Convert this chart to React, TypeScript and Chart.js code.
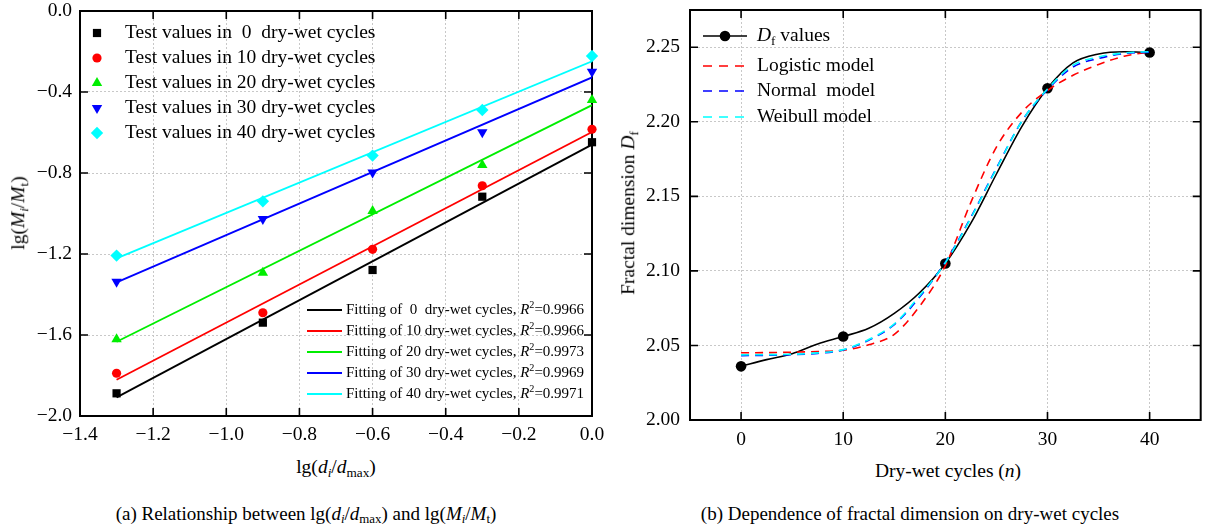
import React, { useEffect, useRef } from "react";
import { Chart, registerables } from "chart.js";
import { drawPoint } from "chart.js/helpers";

Chart.register(...registerables);

const FONT = "'Liberation Serif', 'Times New Roman', serif";

// ---------- Panel (a) data ----------
const sizeX = [-1.3, -0.9, -0.6, -0.3, 0.0];
const cycles = [0, 10, 20, 30, 40];
const test0 = [-1.888, -1.539, -1.279, -0.917, -0.648];
const test10 = [-1.789, -1.49, -1.177, -0.863, -0.584];
const test20 = [-1.621, -1.292, -0.988, -0.76, -0.44];
const test30 = [-1.337, -1.027, -0.797, -0.599, -0.3];
const test40 = [-1.208, -0.94, -0.714, -0.489, -0.222];
const fitX = [-1.3, 0.0];
const fit0 = [-1.908, -0.66];
const fit10 = [-1.821, -0.598];
const fit20 = [-1.633, -0.465];
const fit30 = [-1.34, -0.328];
const fit40 = [-1.222, -0.248];
const r2Values = ["0.9966", "0.9966", "0.9973", "0.9969", "0.9971"];
const aXTicks = [-1.4, -1.2, -1.0, -0.8, -0.6, -0.4, -0.2, 0.0];
const aYTicks = [-2.0, -1.6, -1.2, -0.8, -0.4, 0.0];

// ---------- Panel (b) data ----------
const dfValues = [2.036, 2.056, 2.105, 2.2225, 2.2465];
const curveN = [0, 2.5, 5, 7.5, 10, 12.5, 15, 17.5, 20, 22.5, 25, 27.5, 30, 32.5, 35, 37.5, 40];
const dfCurve = [2.036, 2.0405, 2.0445, 2.051, 2.056, 2.0615, 2.0715, 2.0855, 2.105, 2.132, 2.165, 2.197, 2.2225, 2.2395, 2.2455, 2.247, 2.2465];
const logistic = [2.0451, 2.0452, 2.0455, 2.0459, 2.0468, 2.0505, 2.0575, 2.0765, 2.1035, 2.146, 2.183, 2.2065, 2.221, 2.2312, 2.2385, 2.244, 2.2469];
const normal = [2.0432, 2.0434, 2.0438, 2.0447, 2.047, 2.0535, 2.064, 2.0826, 2.106, 2.136, 2.169, 2.2005, 2.2215, 2.2368, 2.2425, 2.2458, 2.2468];
const weibull = [2.0437, 2.0438, 2.0441, 2.045, 2.0472, 2.054, 2.0645, 2.0835, 2.1055, 2.1355, 2.1685, 2.2005, 2.222, 2.238, 2.2435, 2.2462, 2.247];
const bXTicks = [0, 10, 20, 30, 40];
const bYTicks = [2.0, 2.05, 2.1, 2.15, 2.2, 2.25];

const testSeries = [test0, test10, test20, test30, test40];
const fitSeries = [fit0, fit10, fit20, fit30, fit40];
const seriesColors = ["#000000", "#ff0000", "#00ee00", "#0000ff", "#00ffff"];
const markerStyles = [
  { pointStyle: "rect", radius: 5.8, rotation: 0 },
  { pointStyle: "circle", radius: 4.6, rotation: 0 },
  { pointStyle: "triangle", radius: 6, rotation: 0 },
  { pointStyle: "triangle", radius: 6, rotation: 180 },
  { pointStyle: "rectRot", radius: 6.2, rotation: 0 },
];

type Seg = { t: string; it?: boolean; sub?: boolean; sup?: boolean };

function drawRich(ctx: CanvasRenderingContext2D, segs: Seg[], x: number, y: number, size: number) {
  let cx = x;
  ctx.textBaseline = "middle";
  ctx.textAlign = "left";
  ctx.fillStyle = "#000";
  for (const s of segs) {
    const fs = s.sub || s.sup ? size * 0.68 : size;
    ctx.font = `${s.it ? "italic " : ""}${fs}px ${FONT}`;
    const dy = s.sub ? size * 0.3 : s.sup ? -size * 0.33 : 0;
    ctx.fillText(s.t, cx, y + dy);
    cx += ctx.measureText(s.t).width;
  }
}

function framePlugin(tickLen: number) {
  return {
    id: "frameTicks",
    beforeDatasetsDraw(chart: any) {
      const { ctx, chartArea } = chart;
      const { left, right, top, bottom } = chartArea;
      const xs = chart.scales.x;
      const ys = chart.scales.y;
      ctx.save();
      ctx.strokeStyle = "#000";
      ctx.lineWidth = 2;
      ctx.beginPath();
      ctx.rect(left, top, right - left, bottom - top);
      ctx.stroke();
      ctx.lineWidth = 1.6;
      ctx.beginPath();
      for (const t of xs.ticks) {
        const px = xs.getPixelForValue(t.value);
        if (Math.abs(px - left) < 1 || Math.abs(px - right) < 1) continue;
        ctx.moveTo(px, bottom);
        ctx.lineTo(px, bottom - tickLen);
        ctx.moveTo(px, top);
        ctx.lineTo(px, top + tickLen);
      }
      for (const t of ys.ticks) {
        const py = ys.getPixelForValue(t.value);
        if (Math.abs(py - top) < 1 || Math.abs(py - bottom) < 1) continue;
        ctx.moveTo(left, py);
        ctx.lineTo(left + tickLen, py);
        ctx.moveTo(right, py);
        ctx.lineTo(right - tickLen, py);
      }
      ctx.stroke();
      ctx.restore();
    },
  };
}

function fmtA(v: number) {
  const s = Math.abs(v) < 1e-9 ? "0.0" : v.toFixed(1);
  return s.replace("-", "\u2212");
}

const tickFont = { family: FONT, size: 19.5 };

function makeAxis(min: number, max: number, ticks: number[], fmt: (v: number) => string, size: number, padding: number, horizontal: boolean) {
  return {
    type: "linear",
    min,
    max,
    afterBuildTicks: (s: any) => {
      s.ticks = ticks.map((v) => ({ value: v }));
    },
    afterFit: (s: any) => {
      if (horizontal) s.height = size;
      else s.width = size;
      s.paddingTop = 0;
      s.paddingBottom = 0;
      s.paddingLeft = 0;
      s.paddingRight = 0;
    },
    grid: { color: "#c8c8c8", lineWidth: 1, drawTicks: false },
    border: { display: false, dash: [2, 2] },
    ticks: {
      font: tickFont,
      color: "#000",
      padding,
      autoSkip: false,
      maxRotation: 0,
      callback: (v: any) => fmt(Number(v)),
    },
  };
}

function buildA(canvas: HTMLCanvasElement) {
  const datasets: any[] = [];
  testSeries.forEach((ser, i) => {
    datasets.push({
      label: `Test values in ${cycles[i]} dry-wet cycles`,
      data: sizeX.map((x, j) => ({ x, y: ser[j] })),
      showLine: false,
      pointStyle: markerStyles[i].pointStyle,
      pointRadius: markerStyles[i].radius,
      pointRotation: markerStyles[i].rotation,
      backgroundColor: seriesColors[i],
      borderColor: seriesColors[i],
      pointBorderWidth: 0,
      clip: false,
      order: 0,
    });
  });
  fitSeries.forEach((ser, i) => {
    datasets.push({
      label: `Fitting of ${cycles[i]} dry-wet cycles`,
      data: fitX.map((x, j) => ({ x, y: ser[j] })),
      showLine: true,
      pointRadius: 0,
      borderColor: seriesColors[i],
      borderWidth: 1.8,
      order: 1,
    });
  });

  const legendPlugin = {
    id: "legendA",
    afterDraw(chart: any) {
      const ctx = chart.ctx as CanvasRenderingContext2D;
      ctx.save();
      const rows = [33, 58, 83, 108, 133];
      testSeries.forEach((_, i) => {
        ctx.fillStyle = seriesColors[i];
        ctx.strokeStyle = seriesColors[i];
        drawPoint(ctx, { pointStyle: markerStyles[i].pointStyle, radius: markerStyles[i].radius, rotation: markerStyles[i].rotation, borderWidth: 0 } as any, 97, rows[i]);
        const num = cycles[i] === 0 ? " 0 " : String(cycles[i]);
        drawRich(ctx, [{ t: `Test values in ${num} dry-wet cycles` }], 125, rows[i], 19.5);
      });
      const frows = [310, 331, 352, 373, 394];
      fitSeries.forEach((_, i) => {
        ctx.strokeStyle = seriesColors[i];
        ctx.lineWidth = 2;
        ctx.beginPath();
        ctx.moveTo(307, frows[i]);
        ctx.lineTo(342, frows[i]);
        ctx.stroke();
        const num = cycles[i] === 0 ? " 0 " : String(cycles[i]);
        drawRich(
          ctx,
          [{ t: `Fitting of ${num} dry-wet cycles, ` }, { t: "R", it: true }, { t: "2", sup: true }, { t: `=${r2Values[i]}` }],
          346,
          frows[i],
          15
        );
      });
      ctx.restore();
    },
  };

  return new Chart(canvas, {
    type: "scatter",
    data: { datasets },
    options: {
      responsive: false,
      animation: false,
      events: [],
      layout: { padding: { left: 0, top: 11, right: 23, bottom: 0 } },
      plugins: { legend: { display: false }, tooltip: { enabled: false } },
      scales: {
        x: makeAxis(-1.4, 0, aXTicks, fmtA, 34, 7, true) as any,
        y: makeAxis(-2.0, 0, aYTicks, fmtA, 80, 8, false) as any,
      },
    },
    plugins: [framePlugin(8), legendPlugin],
  } as any);
}

const modelSeries = [
  { name: "Logistic model", data: logistic, color: "#ff0000", order: 3 },
  { name: "Normal  model", data: normal, color: "#0000ff", order: 2 },
  { name: "Weibull model", data: weibull, color: "#00ffff", order: 1 },
];

function buildB(canvas: HTMLCanvasElement) {
  const datasets: any[] = [
    {
      label: "Df curve",
      data: curveN.map((x, j) => ({ x, y: dfCurve[j] })),
      showLine: true,
      pointRadius: 0,
      borderColor: "#000",
      borderWidth: 1.6,
      cubicInterpolationMode: "monotone",
      order: 5,
    },
    {
      label: "Df values",
      data: cycles.map((x, j) => ({ x, y: dfValues[j] })),
      showLine: false,
      pointStyle: "circle",
      pointRadius: 5.3,
      backgroundColor: "#000",
      borderColor: "#000",
      pointBorderWidth: 0,
      order: 4,
    },
    ...modelSeries.map((m) => ({
      label: m.name,
      data: curveN.map((x, j) => ({ x, y: m.data[j] })),
      showLine: true,
      pointRadius: 0,
      borderColor: m.color,
      borderWidth: 1.6,
      borderDash: [8, 6],
      cubicInterpolationMode: "monotone",
      order: m.order,
    })),
  ];

  const legendPlugin = {
    id: "legendB",
    afterDraw(chart: any) {
      const ctx = chart.ctx as CanvasRenderingContext2D;
      ctx.save();
      const x0 = 88;
      const x1 = 132;
      const tx = 142;
      ctx.strokeStyle = "#000";
      ctx.lineWidth = 1.6;
      ctx.beginPath();
      ctx.moveTo(x0, 36);
      ctx.lineTo(x1, 36);
      ctx.stroke();
      ctx.fillStyle = "#000";
      drawPoint(ctx, { pointStyle: "circle", radius: 5.3, rotation: 0, borderWidth: 0 } as any, 110, 36);
      drawRich(ctx, [{ t: "D", it: true }, { t: "f", sub: true }, { t: " values" }], tx, 36, 19.5);
      const rows = [66, 91, 117];
      modelSeries.forEach((m, i) => {
        ctx.strokeStyle = m.color;
        ctx.lineWidth = 1.6;
        ctx.setLineDash([9, 7]);
        ctx.beginPath();
        ctx.moveTo(x0, rows[i]);
        ctx.lineTo(x1, rows[i]);
        ctx.stroke();
        ctx.setLineDash([]);
        drawRich(ctx, [{ t: m.name }], tx, rows[i], 19.5);
      });
      ctx.restore();
    },
  };

  return new Chart(canvas, {
    type: "scatter",
    data: { datasets },
    options: {
      responsive: false,
      animation: false,
      events: [],
      layout: { padding: { left: 0, top: 10, right: 1, bottom: 0 } },
      plugins: { legend: { display: false }, tooltip: { enabled: false } },
      scales: {
        x: makeAxis(-5, 45, bXTicks, (v) => String(v), 30, 8, true) as any,
        y: makeAxis(2.0, 2.275, bYTicks, (v) => v.toFixed(2), 75, 10, false) as any,
      },
    },
    plugins: [framePlugin(8), legendPlugin],
  } as any);
}

const textBase: React.CSSProperties = {
  position: "absolute",
  whiteSpace: "pre",
  lineHeight: 1,
  fontSize: 19,
  fontFamily: FONT,
  color: "#000",
};

function Label({ x, y, rotate, children, size }: { x: number; y: number; rotate?: boolean; children: React.ReactNode; size?: number }) {
  return (
    <div
      style={{
        ...textBase,
        fontSize: size ?? 19,
        left: x,
        top: y,
        transform: `translate(-50%, -50%)${rotate ? " rotate(-90deg)" : ""}`,
      }}
    >
      {children}
    </div>
  );
}

const subStyle: React.CSSProperties = { fontSize: "0.68em", verticalAlign: "-0.3em", lineHeight: 0 };

export default function App() {
  const aRef = useRef<HTMLCanvasElement>(null);
  const bRef = useRef<HTMLCanvasElement>(null);

  useEffect(() => {
    const a = buildA(aRef.current!);
    const b = buildB(bRef.current!);
    return () => {
      a.destroy();
      b.destroy();
    };
  }, []);

  return (
    <div style={{ position: "absolute", left: 0, top: 0, width: 1206, height: 529, background: "#fff", overflow: "hidden" }}>
      <canvas ref={aRef} width={615} height={450} style={{ position: "absolute", left: 0, top: 0, width: 615, height: 450 }} />
      <canvas ref={bRef} width={591} height={450} style={{ position: "absolute", left: 615, top: 0, width: 591, height: 450 }} />

      <Label x={18} y={213} rotate size={19.5}>
        lg(<i>M</i>
        <span style={subStyle}>
          <i>i</i>
        </span>
        /<i>M</i>
        <span style={subStyle}>t</span>)
      </Label>
      <Label x={336} y={467} size={19.5}>
        lg(<i>d</i>
        <span style={subStyle}>
          <i>i</i>
        </span>
        /<i>d</i>
        <span style={subStyle}>max</span>)
      </Label>
      <Label x={306} y={513}>
        (a) Relationship between lg(<i>d</i>
        <span style={subStyle}>
          <i>i</i>
        </span>
        /<i>d</i>
        <span style={subStyle}>max</span>) and lg(<i>M</i>
        <span style={subStyle}>
          <i>i</i>
        </span>
        /<i>M</i>
        <span style={subStyle}>t</span>)
      </Label>

      <Label x={628} y={213} rotate size={19.5}>
        Fractal dimension <i>D</i>
        <span style={subStyle}>f</span>
      </Label>
      <Label x={948} y={471} size={19.5}>
        Dry-wet cycles (<i>n</i>)
      </Label>
      <Label x={910} y={513}>
        (b) Dependence of fractal dimension on dry-wet cycles
      </Label>
    </div>
  );
}
